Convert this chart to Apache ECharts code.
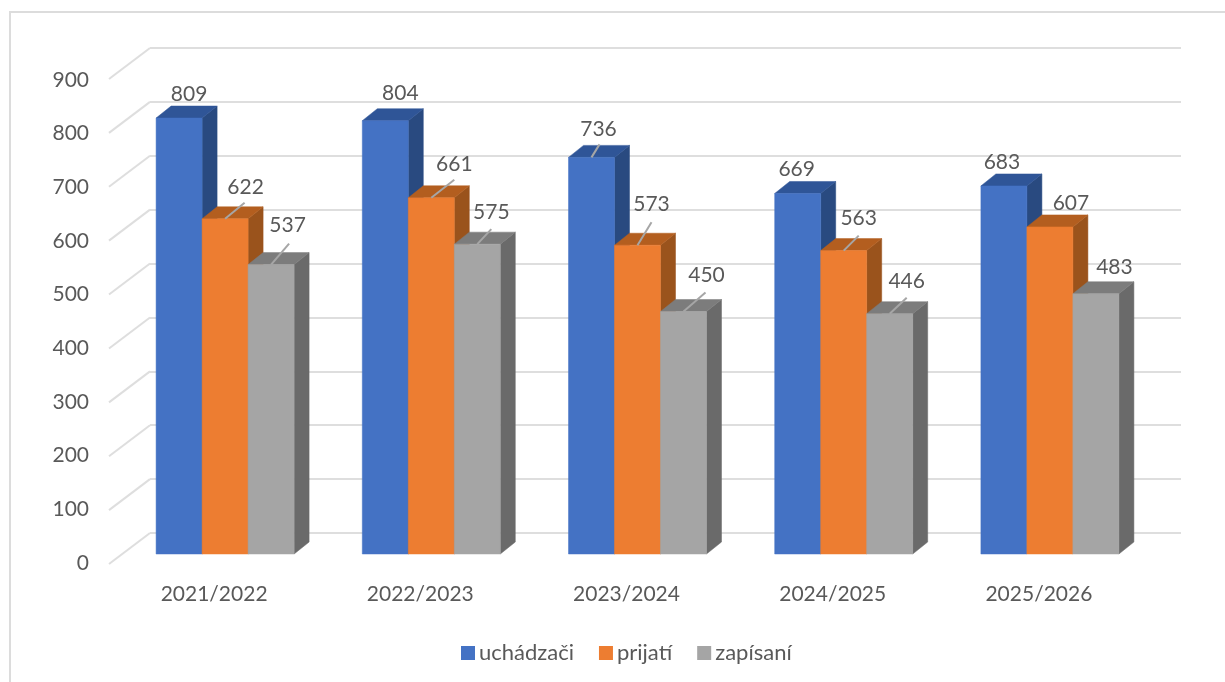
<!DOCTYPE html>
<html>
<head>
<meta charset="utf-8">
<style>html,body{margin:0;padding:0;background:#fff}#c{width:1225px;height:682px}</style>
<script src="https://cdn.jsdelivr.net/npm/echarts@6/dist/echarts.min.js"></script>
</head>
<body>
<div id="c"></div>
<script>
const categories = ['2021/2022', '2022/2023', '2023/2024', '2024/2025', '2025/2026'];
const uchadzaci = [809, 804, 736, 669, 683];
const prijati = [622, 661, 573, 563, 607];
const zapisani = [537, 575, 450, 446, 483];
const yTicks = [0, 100, 200, 300, 400, 500, 600, 700, 800, 900];

// label placement relative to each bar's top: [label dx, label dy, leader dx, leader dy] (leader optional)
const uchadzaciLabels = [[10,-25],[15,-28],[7,-29,8,-13],[-1,-25],[-2,-25]];
const prijatiLabels = [[20.5,-33,19.5,-16],[23,-35,23,-18],[14,-42,14,-23],[15,-33,15,-15],[21,-25]];
const zapisaniLabels = [[16.5,-40,18,-21],[14,-33,14,-15],[23,-37,22,-19],[17,-33,17,-16],[18.5,-27]];

const FONT = 'Lato, "Noto Sans", sans-serif';
const TEXT = '#595959';
const GRID = '#dedede';
const WALL_DX = 41, WALL_DY = 31;     // back wall to front plane of the floor
const BAR_DX = 28, BAR_DY = 21;       // back wall to bar front
const DEPTH_DX = 15, DEPTH_DY = 12;   // bar depth
const BAR_BAND = 46 / 206.2;          // bar width as a share of the category band

function barSeries(name, values, labels, index, front, top, side) {
  return {
    type: 'custom',
    name: name,
    xAxisIndex: 0,
    yAxisIndex: 0,
    silent: true,
    z: 3 + index,
    itemStyle: { color: front },
    data: values.map((v, i) => [i, v]),
    renderItem: function (params, api) {
      const c = api.value(0), v = api.value(1);
      const pt = api.coord([c, v]);
      const base = api.coord([c, 0]);
      const w = api.size([1, 0])[0] * BAR_BAND;
      const l = pt[0] - BAR_DX + (index - 1.5) * w;
      const r = l + w;
      const y = pt[1] + BAR_DY;
      const b = base[1] + BAR_DY;
      const poly = (points, fill) => ({
        type: 'polygon', shape: { points: points },
        style: { fill: fill, stroke: fill, lineWidth: 0.5 }
      });
      const children = [
        poly([[r, y], [r + DEPTH_DX, y - DEPTH_DY], [r + DEPTH_DX, b - DEPTH_DY], [r, b]], side),
        poly([[l, y], [l + DEPTH_DX, y - DEPTH_DY], [r + DEPTH_DX, y - DEPTH_DY], [r, y]], top),
        poly([[l, y], [r, y], [r, b], [l, b]], front)
      ];
      const cx = (l + r) / 2;
      const o = labels[c];
      if (o.length > 2) {
        children.push({
          type: 'line',
          shape: { x1: cx, y1: y, x2: cx + o[2], y2: y + o[3] },
          style: { stroke: '#a6a6a6', lineWidth: 2 }
        });
      }
      children.push({
        type: 'text',
        style: {
          text: String(v), x: cx + o[0], y: y + o[1] + 1,
          align: 'center', verticalAlign: 'middle',
          font: '21px ' + FONT, fill: TEXT
        }
      });
      return { type: 'group', children: children };
    }
  };
}

const chart = echarts.init(document.getElementById('c'), null, { renderer: 'canvas' });
chart.setOption({
  animation: false,
  backgroundColor: '#fff',
  legend: {
    data: ['uchádzači', 'prijatí', 'zapísaní'],
    left: 456, top: 637,
    icon: 'rect',
    itemWidth: 14, itemHeight: 14, itemGap: 25,
    itemStyle: { borderWidth: 0 },
    selectedMode: false,
    textStyle: { fontFamily: FONT, fontSize: 22, color: TEXT, padding: [0, 0, 0, -1] }
  },
  grid: [
    { left: 150, width: 1031, top: 48, height: 485 },   // back wall
    { left: 111, width: 1031, top: 80, height: 483 }    // front plane, carries the labels
  ],
  xAxis: [
    { gridIndex: 0, type: 'category', data: categories,
      axisLine: { show: false }, axisTick: { show: false }, axisLabel: { show: false } },
    { gridIndex: 1, type: 'category', data: categories,
      axisLine: { show: false }, axisTick: { show: false },
      axisLabel: { fontFamily: FONT, fontSize: 21, color: TEXT, margin: 21 } }
  ],
  yAxis: [
    { gridIndex: 0, type: 'value', min: 0, max: 900, interval: 100,
      axisLine: { show: false }, axisTick: { show: false }, axisLabel: { show: false },
      splitLine: { show: true, lineStyle: { color: GRID, width: 2 } } },
    { gridIndex: 1, type: 'value', min: 0, max: 900, interval: 100,
      axisLine: { show: false }, axisTick: { show: false }, splitLine: { show: false },
      axisLabel: { fontFamily: FONT, fontSize: 21, color: TEXT, margin: 22 } }
  ],
  graphic: [
    { type: 'line', silent: true, shape: { x1: 10, y1: 12, x2: 1225, y2: 12 }, style: { stroke: '#dcdcdc', lineWidth: 2 } },
    { type: 'line', silent: true, shape: { x1: 10, y1: 11, x2: 10, y2: 682 }, style: { stroke: '#dcdcdc', lineWidth: 2 } }
  ],
  series: [
    {
      type: 'custom', name: 'walls', xAxisIndex: 0, yAxisIndex: 0, silent: true, z: 1,
      data: yTicks.map(v => [0, v]),
      renderItem: function (params, api) {
        const p = api.coord([0, api.value(1)]);
        const x = params.coordSys.x;
        return {
          type: 'line',
          shape: { x1: x, y1: p[1], x2: x - WALL_DX, y2: p[1] + WALL_DY },
          style: { stroke: GRID, lineWidth: 2 }
        };
      }
    },
    barSeries('uchádzači', uchadzaci, uchadzaciLabels, 0, '#4472C4', '#2F5597', '#294A80'),
    barSeries('prijatí', prijati, prijatiLabels, 1, '#ED7D31', '#B35E1F', '#9A531C'),
    barSeries('zapísaní', zapisani, zapisaniLabels, 2, '#A5A5A5', '#7C7C7C', '#6A6A6A')
  ]
});
</script>
</body>
</html>
